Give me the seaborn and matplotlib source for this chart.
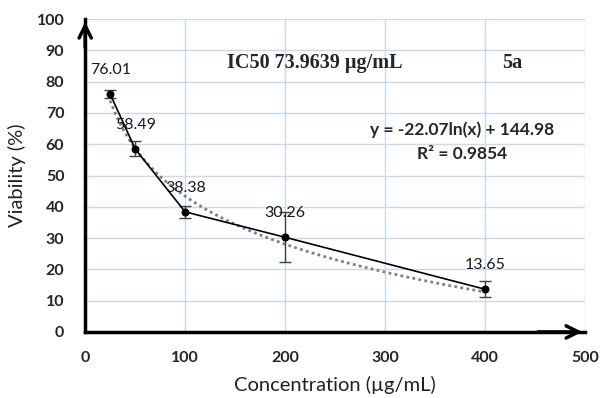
import numpy as np
import pandas as pd
import matplotlib
matplotlib.use("Agg")
import matplotlib.pyplot as plt
import seaborn as sns

# data
concentration = [25, 50, 100, 200, 400]
viability = [76.01, 58.49, 38.38, 30.26, 13.65]
error = [1.2, 2.4, 2.0, 8.0, 2.6]
value_labels = ["76.01", "58.49", "38.38", "30.26", "13.65"]
x_ticks = [0, 100, 200, 300, 400, 500]
y_ticks = [0, 10, 20, 30, 40, 50, 60, 70, 80, 90, 100]
ic50_text = "IC50 73.9639 µg/mL"
sample_text = "5a"

sns.set_style("white")
plt.rcParams["font.family"] = ["Lato", "DejaVu Sans"]

df = pd.DataFrame({"conc": concentration, "viab": viability})

# logarithmic trend fitted to the points
slope, intercept = np.polyfit(np.log(df["conc"]), df["viab"], 1)
ss_res = np.sum((df["viab"] - (slope * np.log(df["conc"]) + intercept)) ** 2)
ss_tot = np.sum((df["viab"] - df["viab"].mean()) ** 2)
r2 = 1 - ss_res / ss_tot
trend_x = np.linspace(min(concentration), max(concentration), 200)
trend = pd.DataFrame({"conc": trend_x, "viab": slope * np.log(trend_x) + intercept})

fig = plt.figure(figsize=(6, 3.98), dpi=100)
ax = fig.add_axes([0.142, 0.166, 0.833, 0.786])

for v in y_ticks[1:]:
    ax.axhline(v, color="#c6dbef", lw=1, zorder=0)
for v in x_ticks[1:]:
    ax.axvline(v, color="#c6dbef", lw=1, zorder=0)

sns.lineplot(data=trend, x="conc", y="viab", ax=ax, color="#7f7f7f",
             lw=2, linestyle=(0, (1, 1.2)), zorder=2)
ax.errorbar(concentration, viability, yerr=error, fmt="none", ecolor="#404040",
            elinewidth=1, capsize=4, capthick=1, zorder=3)
sns.lineplot(data=df, x="conc", y="viab", ax=ax, color="black", lw=1.2,
             marker="o", markersize=5, markeredgecolor="black", zorder=4)

for x, y, t in zip(concentration, viability, value_labels):
    ax.text(x, y + 7.7, t, ha="center", va="center", fontsize=11.5, color="#1a1a1a")

ax.set_xlim(0, 500)
ax.set_ylim(0, 100)
ax.set_xticks(x_ticks)
ax.set_yticks(y_ticks)
for lab in ax.get_xticklabels() + ax.get_yticklabels():
    lab.set_fontweight("bold")
    lab.set_fontsize(11.5)
ax.tick_params(axis="x", direction="inout", length=7, width=2, pad=10)
ax.tick_params(axis="y", direction="in", length=5, width=2, pad=15)

for s in ["top", "right"]:
    ax.spines[s].set_visible(False)
for s in ["left", "bottom"]:
    ax.spines[s].set_linewidth(2.5)
    ax.spines[s].set_color("black")

# arrow heads on the axes
ax.annotate("", xy=(0, 1.0), xytext=(0, 0.9), xycoords="axes fraction",
            arrowprops=dict(arrowstyle="->", lw=2.5, color="black", mutation_scale=22),
            annotation_clip=False)
ax.annotate("", xy=(1.0, 0), xytext=(0.9, 0), xycoords="axes fraction",
            arrowprops=dict(arrowstyle="->", lw=2.5, color="black", mutation_scale=22),
            annotation_clip=False)

ax.set_xlabel("Concentration (µg/mL)", fontsize=14.5, labelpad=8, color="#222222")
ax.set_ylabel("Viability (%)", fontsize=14.5, labelpad=8, color="#222222")

ax.text(230, 86, ic50_text, ha="center", va="center", fontsize=14.5,
        fontweight="bold", family="Liberation Serif")
ax.text(427, 86, sample_text, ha="center", va="center", fontsize=14.5,
        fontweight="bold", family="Liberation Serif")
ax.text(377, 64.5, "y = %.2fln(x) + %.2f" % (slope, intercept), ha="center",
        va="center", fontsize=12.5, fontweight="bold")
ax.text(377, 57, "R² = %.4f" % r2, ha="center", va="center",
        fontsize=12.5, fontweight="bold")

fig.savefig("out.png", dpi=100)
